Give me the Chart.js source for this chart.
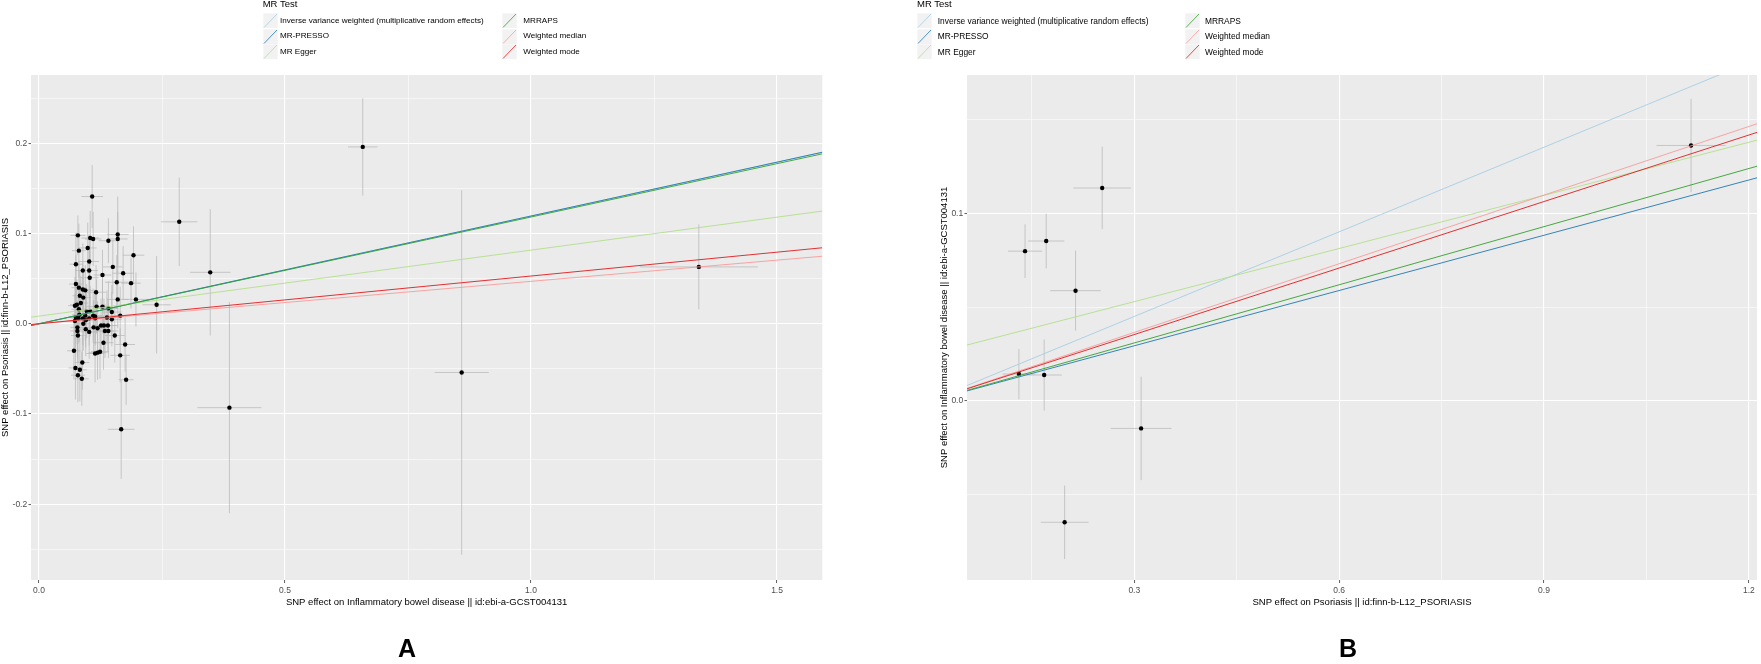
<!DOCTYPE html>
<html>
<head>
<meta charset="utf-8">
<title>MR scatter plots</title>
<script src="https://cdn.jsdelivr.net/npm/chart.js@4.4.1/dist/chart.umd.min.js"></script>
<style>
  body { margin: 0; width: 1761px; height: 664px; background: #fff; position: relative; overflow: hidden;
         font-family: "Liberation Sans", Arial, sans-serif; }
  canvas { position: absolute; top: 0; }
  #chartA { left: 0; }
  #chartB { left: 880px; }
  .lg-title { position: absolute; font-size: 9.5px; color: #000; white-space: nowrap; line-height: 1; }
  .lg-key { position: absolute; display: block; }
  .lg-text { position: absolute; color: #000; white-space: nowrap; line-height: 1; transform: translateY(-50%); }
  .tag { position: absolute; font-weight: bold; font-size: 25px; transform: translate(-50%, -50%); line-height: 1; }
</style>
</head>
<body>
<canvas id="chartA" width="880" height="664"></canvas>
<canvas id="chartB" width="881" height="664"></canvas>
<div class="tag" style="left:407px; top:648px;">A</div>
<div class="tag" style="left:1348px; top:648px;">B</div>

<script>
// ===============================
// Methods (legend)
// ===============================
const methods = [
  "Inverse variance weighted (multiplicative random effects)",
  "MR-PRESSO",
  "MR Egger",
  "MRRAPS",
  "Weighted median",
  "Weighted mode"
];
const methodColors = ["#A6CEE3", "#1F78B4", "#B2DF8A", "#33A02C", "#FB9A99", "#E31A1C"];

// ===============================
// Panel A: IBD (exposure) -> Psoriasis (outcome)
// ===============================
const aSnpX = [0.108, 0.079, 0.104, 0.110, 0.141, 0.160, 0.160, 0.081, 0.099, 0.192,
  0.075, 0.102, 0.089, 0.102, 0.150, 0.171, 0.129, 0.103, 0.158, 0.187,
  0.075, 0.081, 0.089, 0.094, 0.116, 0.083, 0.090, 0.160, 0.197, 0.085,
  0.073, 0.077, 0.117, 0.129, 0.239, 0.081, 0.097, 0.104, 0.141, 0.082,
  0.094, 0.110, 0.114, 0.148, 0.165, 0.075, 0.080, 0.089, 0.102, 0.138,
  0.073, 0.095, 0.114, 0.090, 0.132, 0.148, 0.078, 0.095, 0.111, 0.119,
  0.126, 0.140, 0.078, 0.102, 0.134, 0.141, 0.079, 0.154, 0.131, 0.175,
  0.071, 0.114, 0.119, 0.124, 0.165, 0.074, 0.083, 0.079, 0.087, 0.088,
  0.177, 0.167, 0.285, 0.348, 0.387, 0.658, 0.859, 1.341];
const aSnpY = [0.141, 0.098, 0.095, 0.094, 0.092, 0.099, 0.094, 0.081, 0.084, 0.076,
  0.066, 0.069, 0.059, 0.059, 0.063, 0.056, 0.054, 0.051, 0.046, 0.045,
  0.044, 0.040, 0.038, 0.037, 0.035, 0.031, 0.029, 0.027, 0.027, 0.023,
  0.020, 0.021, 0.019, 0.019, 0.021, 0.016, 0.014, 0.014, 0.017, 0.010,
  0.009, 0.009, 0.008, 0.013, 0.009, 0.007, 0.006, 0.006, 0.006, 0.007,
  0.003, 0.004, 0.006, 0.000, -0.002, 0.005, -0.004, -0.006, -0.004, -0.005,
  -0.002, -0.002, -0.008, -0.009, -0.008, -0.008, -0.013, -0.013, -0.021, -0.023,
  -0.030, -0.033, -0.032, -0.031, -0.035, -0.049, -0.051, -0.057, -0.061, -0.043,
  -0.062, -0.117, 0.113, 0.057, -0.093, 0.196, -0.054, 0.063];
const aSnpXse = [0.022, 0.015, 0.018, 0.017, 0.020, 0.022, 0.020, 0.014, 0.018, 0.022,
  0.013, 0.020, 0.016, 0.018, 0.020, 0.022, 0.018, 0.018, 0.024, 0.020,
  0.014, 0.015, 0.016, 0.016, 0.020, 0.015, 0.016, 0.022, 0.024, 0.015,
  0.014, 0.014, 0.020, 0.018, 0.029, 0.015, 0.016, 0.017, 0.020, 0.015,
  0.016, 0.018, 0.018, 0.020, 0.022, 0.014, 0.014, 0.016, 0.018, 0.020,
  0.014, 0.016, 0.018, 0.016, 0.020, 0.020, 0.014, 0.016, 0.018, 0.018,
  0.018, 0.020, 0.014, 0.016, 0.020, 0.020, 0.014, 0.020, 0.020, 0.020,
  0.014, 0.018, 0.018, 0.018, 0.020, 0.014, 0.014, 0.014, 0.014, 0.014,
  0.015, 0.027, 0.037, 0.041, 0.065, 0.030, 0.055, 0.120];
const aSnpYse = [0.035, 0.022, 0.030, 0.030, 0.025, 0.042, 0.030, 0.030, 0.028, 0.032,
  0.035, 0.030, 0.030, 0.028, 0.030, 0.030, 0.028, 0.030, 0.030, 0.028,
  0.032, 0.030, 0.030, 0.028, 0.030, 0.028, 0.030, 0.032, 0.030, 0.030,
  0.032, 0.028, 0.030, 0.030, 0.054, 0.030, 0.030, 0.028, 0.030, 0.030,
  0.028, 0.030, 0.030, 0.030, 0.032, 0.030, 0.028, 0.030, 0.030, 0.030,
  0.030, 0.030, 0.030, 0.030, 0.030, 0.030, 0.030, 0.030, 0.030, 0.030,
  0.030, 0.030, 0.030, 0.030, 0.030, 0.030, 0.030, 0.030, 0.030, 0.030,
  0.032, 0.032, 0.030, 0.030, 0.030, 0.035, 0.035, 0.030, 0.030, 0.030,
  0.028, 0.055, 0.049, 0.070, 0.117, 0.054, 0.202, 0.047];
const aSlopes = [0.1194, 0.1194, 0.0731, 0.1183, 0.0470, 0.0529];
const aIntercepts = [0, 0, 0.0085, 0, 0, 0];
const aXRange = [-0.0163, 1.592];
const aYRange = [-0.284, 0.2757];
const aXMajor = [0, 0.5, 1, 1.5];
const aXMinor = [0.25, 0.75, 1.25];
const aYMajor = [-0.2, -0.1, 0, 0.1, 0.2];
const aYMinor = [-0.25, -0.15, -0.05, 0.05, 0.15, 0.25];
const aXTitle = "SNP effect on Inflammatory bowel disease || id:ebi-a-GCST004131";
const aYTitle = "SNP effect on Psoriasis || id:finn-b-L12_PSORIASIS";

// ===============================
// Panel B: Psoriasis (exposure) -> IBD (outcome)
// ===============================
const bSnpX = [0.253, 0.140, 0.171, 0.214, 0.131, 0.168, 0.310, 0.198, 1.1154];
const bSnpY = [0.1137, 0.0800, 0.0854, 0.0589, 0.0144, 0.0139, -0.0146, -0.0647, 0.1364];
const bSnpXse = [0.042, 0.025, 0.0265, 0.037, 0.024, 0.026, 0.0445, 0.035, 0.0505];
const bSnpYse = [0.022, 0.0143, 0.0146, 0.0214, 0.0134, 0.019, 0.0276, 0.0196, 0.0249];
const bSlopes = [0.1505, 0.0983, 0.0945, 0.1034, 0.1221, 0.1183];
const bIntercepts = [0, 0, 0.0247, 0, 0, 0];
const bXRange = [0.055, 1.212];
const bYRange = [-0.0955, 0.174];
const bXMajor = [0.3, 0.6, 0.9, 1.2];
const bXMinor = [0.15, 0.45, 0.75, 1.05];
const bYMajor = [0, 0.1];
const bYMinor = [-0.05, 0.05, 0.15];
const bXTitle = "SNP effect on Psoriasis || id:finn-b-L12_PSORIASIS";
const bYTitle = "SNP effect on Inflammatory bowel disease || id:ebi-a-GCST004131";

Chart.defaults.font.family = '"Liberation Sans", Arial, sans-serif';

// ===============================
// Plugins
// ===============================
const panelBg = {
  id: "panelBg",
  beforeDraw(chart) {
    const { ctx, chartArea: a } = chart;
    ctx.save();
    ctx.fillStyle = "#EBEBEB";
    ctx.fillRect(a.left, a.top, a.right - a.left, a.bottom - a.top);
    ctx.restore();
  }
};

// error bars (bx +/- se, by +/- se), drawn under the points
function makeErrorBars(xs, ys, xse, yse) {
  return {
    id: "errorBars",
    beforeDatasetsDraw(chart) {
      const { ctx, chartArea: a, scales } = chart;
      const sx = scales.x, sy = scales.y;
      ctx.save();
      ctx.beginPath();
      ctx.rect(a.left, a.top, a.right - a.left, a.bottom - a.top);
      ctx.clip();
      ctx.strokeStyle = "#B8B8B8";
      ctx.lineWidth = 0.75;
      xs.forEach((bx, i) => {
        const by = ys[i];
        const px = sx.getPixelForValue(bx);
        const py = sy.getPixelForValue(by);
        ctx.beginPath();
        ctx.moveTo(px, sy.getPixelForValue(by - yse[i]));
        ctx.lineTo(px, sy.getPixelForValue(by + yse[i]));
        ctx.moveTo(sx.getPixelForValue(bx - xse[i]), py);
        ctx.lineTo(sx.getPixelForValue(bx + xse[i]), py);
        ctx.stroke();
      });
      ctx.restore();
    }
  };
}

function isIn(list, v) {
  return list.some((m) => Math.abs(m - v) < 1e-9);
}

function axisConfig(range, major, minor, title, horizontal, box, titlePad) {
  return {
    type: "linear",
    min: range[0],
    max: range[1],
    afterBuildTicks: (s) => {
      s.ticks = major.concat(minor).sort((p, q) => p - q).map((v) => ({ value: v }));
    },
    afterFit: (s) => {
      if (horizontal) s.height = box; else s.width = box;
    },
    border: { display: false },
    grid: {
      color: "#FFFFFF",
      lineWidth: (c) => (c.tick && isIn(major, c.tick.value) ? 1.1 : 0.55),
      tickColor: (c) => (c.tick && isIn(major, c.tick.value) ? "#333333" : "rgba(0,0,0,0)"),
      tickLength: horizontal ? 3 : 2.5,
      tickWidth: 0.8
    },
    ticks: {
      autoSkip: false,
      maxRotation: 0,
      color: "#4D4D4D",
      font: { size: 8.5 },
      padding: horizontal ? 2.3 : 1.3,
      callback: (v) => (isIn(major, v) ? Number(v).toFixed(1) : "")
    },
    title: {
      display: true,
      text: title,
      color: "#000",
      font: { size: 9.5, lineHeight: 1 },
      padding: titlePad
    }
  };
}

function makePanel(canvasId, p) {
  const lineSets = methods.map((name, i) => ({
    type: "line",
    label: name,
    data: p.range.map((x) => ({ x: x, y: p.intercepts[i] + p.slopes[i] * x })),
    borderColor: methodColors[i],
    borderWidth: 0.9,
    pointRadius: 0,
    fill: false,
    clip: 0,
    order: methods.length - i
  }));

  return new Chart(document.getElementById(canvasId), {
    type: "scatter",
    data: {
      datasets: [{
        label: "SNPs",
        data: p.xs.map((x, i) => ({ x: x, y: p.ys[i] })),
        backgroundColor: "#000",
        borderWidth: 0,
        pointRadius: 2.2,
        order: 100
      }].concat(lineSets)
    },
    options: {
      responsive: false,
      animation: false,
      devicePixelRatio: 1,
      layout: { padding: p.padding },
      plugins: { legend: { display: false }, tooltip: { enabled: false } },
      scales: {
        x: axisConfig(p.range, p.xMajor, p.xMinor, p.xTitle, true, 30, { top: 0, bottom: 3 }),
        y: axisConfig(p.yRange, p.yMajor, p.yMinor, p.yTitle, false, p.yBox, { top: p.yTitlePad, bottom: 0 })
      }
    },
    plugins: [panelBg, makeErrorBars(p.xs, p.ys, p.xse, p.yse)]
  });
}

makePanel("chartA", {
  xs: aSnpX, ys: aSnpY, xse: aSnpXse, yse: aSnpYse,
  slopes: aSlopes, intercepts: aIntercepts,
  range: aXRange, yRange: aYRange,
  xMajor: aXMajor, xMinor: aXMinor, yMajor: aYMajor, yMinor: aYMinor,
  xTitle: aXTitle, yTitle: aYTitle,
  padding: { left: 0, top: 75, right: 57.7, bottom: 54 },
  yBox: 31, yTitlePad: 0.8
});

makePanel("chartB", {
  xs: bSnpX, ys: bSnpY, xse: bSnpXse, yse: bSnpYse,
  slopes: bSlopes, intercepts: bIntercepts,
  range: bXRange, yRange: bYRange,
  xMajor: bXMajor, xMinor: bXMinor, yMajor: bYMajor, yMinor: bYMinor,
  xTitle: bXTitle, yTitle: bYTitle,
  padding: { left: 57, top: 75, right: 3, bottom: 54 },
  yBox: 30, yTitlePad: 3
});

// ===============================
// Legends (ggplot style, 2 columns x 3 rows)
// ===============================
function buildLegend(opt) {
  const title = document.createElement("div");
  title.className = "lg-title";
  title.textContent = "MR Test";
  title.style.left = opt.left + "px";
  title.style.top = "-1px";
  document.body.appendChild(title);

  const rowCenters = [20.7, 36.4, 51.9];
  methods.forEach((name, i) => {
    const col = Math.floor(i / 3);
    const row = i % 3;
    const keyLeft = col === 0 ? opt.left : opt.col2Key;
    const textLeft = col === 0 ? opt.text1 : opt.text2;
    const svgNS = "http://www.w3.org/2000/svg";
    const svg = document.createElementNS(svgNS, "svg");
    svg.setAttribute("class", "lg-key");
    svg.setAttribute("width", "15");
    svg.setAttribute("height", "15.5");
    svg.style.left = keyLeft + "px";
    svg.style.top = (rowCenters[row] - 7.75) + "px";
    const bg = document.createElementNS(svgNS, "rect");
    bg.setAttribute("x", "0.3"); bg.setAttribute("y", "0.3");
    bg.setAttribute("width", "14.4"); bg.setAttribute("height", "14.9");
    bg.setAttribute("fill", "#F2F2F2");
    const ln = document.createElementNS(svgNS, "line");
    ln.setAttribute("x1", "1"); ln.setAttribute("y1", "14.5");
    ln.setAttribute("x2", "14"); ln.setAttribute("y2", "1");
    ln.setAttribute("stroke", methodColors[i]);
    ln.setAttribute("stroke-width", "0.8");
    svg.appendChild(bg);
    svg.appendChild(ln);
    document.body.appendChild(svg);

    const t = document.createElement("div");
    t.className = "lg-text";
    t.textContent = name;
    t.style.left = textLeft + "px";
    t.style.top = rowCenters[row] + "px";
    t.style.fontSize = opt.fontSize + "px";
    document.body.appendChild(t);
  });
}

buildLegend({ left: 262.7, col2Key: 501.7, text1: 280, text2: 523.3, fontSize: 8.1 });
buildLegend({ left: 917, col2Key: 1184.8, text1: 937.8, text2: 1205, fontSize: 8.4 });
</script>
</body>
</html>
